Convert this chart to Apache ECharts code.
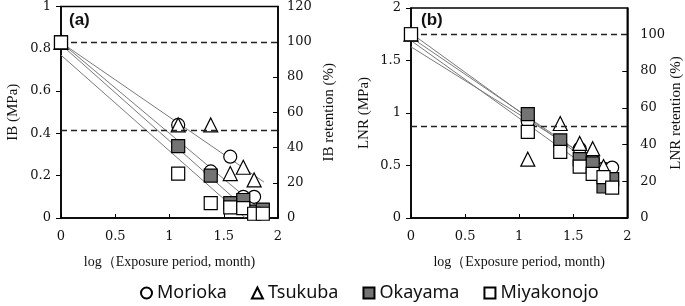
<!DOCTYPE html>
<html>
<head>
<meta charset="utf-8">
<script src="https://cdn.jsdelivr.net/npm/echarts@6/dist/echarts.min.js"></script>
<style>
  html, body { margin: 0; padding: 0; background: #fff; }
  #main { width: 685px; height: 306px; }
</style>
</head>
<body>
<div id="main"></div>
<script>
// exposure period, log(month): initial, 12, 24, 36, 48, 60, 72 months
var logTime = [0, 1.08, 1.38, 1.56, 1.68, 1.78, 1.86];
var sites = ["Morioka", "Tsukuba", "Okayama", "Miyakonojo"];

// (a) IB, MPa
var ibMorioka    = [0.83, 0.44, 0.22, 0.29, 0.10, 0.10, 0.03];
var ibTsukuba    = [0.83, 0.44, 0.44, 0.21, 0.24, 0.18, null];
var ibOkayama    = [0.83, 0.34, 0.20, 0.07, 0.085, 0.03, 0.04];
var ibMiyakonojo = [0.83, 0.21, 0.07, 0.05, 0.047, 0.02, 0.02];

// (b) LNR, MPa
var lnrMorioka    = [1.75, 0.92, 0.70, 0.66, 0.55, 0.47, 0.48];
var lnrTsukuba    = [1.75, 0.56, 0.90, 0.71, 0.66, 0.49, null];
var lnrOkayama    = [1.75, 0.99, 0.74, 0.56, 0.52, 0.30, 0.37];
var lnrMiyakonojo = [1.75, 0.82, 0.63, 0.49, 0.42, 0.39, 0.29];

// regression lines, read as start / end values
var ibFitX  = [[0, 1.86], [0, 1.87], [0, 1.80], [0, 1.70]];
var ibFitY  = [[0.83, 0.03], [0.83, 0.17], [0.82, 0.0], [0.77, 0.0]];
var lnrFitX = [[0, 1.88], [0, 1.88], [0, 1.88], [0, 1.88]];
var lnrFitY = [[1.72, 0.40], [1.63, 0.42], [1.76, 0.36], [1.69, 0.30]];

// retention reference levels, %
var refLevels = [100, 50];
var lnrInitial = 1.75;

var xTicks = ["0", "0.5", "1", "1.5", "2"];

var symbols = ["circle", "triangle", "rect", "rect"];
var fills = ["#fff", "#fff", "#737373", "#fff"];

var serif = "'DejaVu Serif', 'Liberation Serif', serif";
var nameFont = "'Liberation Serif', serif";

function pairs(vals) {
    var out = [];
    for (var i = 0; i < logTime.length; i++) {
        if (vals[i] !== null) out.push([logTime[i], vals[i]]);
    }
    return out;
}

var myChart = echarts.init(document.getElementById('main'), null, {renderer: 'canvas'});

function xAxisFor(gi) {
    return {
        gridIndex: gi, type: 'value', min: 0, max: 2, interval: 0.5,
        name: 'log（Exposure period, month)', nameLocation: 'middle', nameGap: 37,
        nameTextStyle: {fontFamily: nameFont, fontSize: 14, color: '#111'},
        axisLine: {lineStyle: {color: '#000', width: 1.5}},
        axisTick: {inside: true, length: 4, lineStyle: {color: '#000'}},
        axisLabel: {fontFamily: serif, fontSize: 13, color: '#111', margin: 12,
            formatter: function (v) { return xTicks[Math.round(v / 0.5)]; }},
        splitLine: {show: false}
    };
}

function leftY(gi, max, step, name, gap) {
    return {
        gridIndex: gi, type: 'value', min: 0, max: max, interval: step, position: 'left',
        name: name, nameLocation: 'middle', nameRotate: 90, nameGap: gap,
        nameTextStyle: {fontFamily: nameFont, fontSize: 15, color: '#111'},
        axisLine: {show: true, lineStyle: {color: '#000', width: 1.5}},
        axisTick: {show: true, length: 5, lineStyle: {color: '#000'}},
        axisLabel: {fontFamily: serif, fontSize: 13, color: '#111', margin: 10},
        splitLine: {show: false}
    };
}

function rightY(gi, max, name, gap, margin) {
    return {
        gridIndex: gi, type: 'value', min: 0, max: max, interval: 20, position: 'right',
        name: name, nameLocation: 'middle', nameRotate: 90, nameGap: gap,
        nameTextStyle: {fontFamily: nameFont, fontSize: 15, color: '#111'},
        axisLine: {show: true, lineStyle: {color: '#000', width: 1.5}},
        axisTick: {show: true, inside: true, length: 5, lineStyle: {color: '#000'}},
        axisLabel: {fontFamily: serif, fontSize: 13, color: '#111', margin: margin, showMaxLabel: max === 120},
        splitLine: {show: false}
    };
}

var series = [];
var panels = [
    {gi: 0, yLeft: 0, yRight: 1, vals: [ibMorioka, ibTsukuba, ibOkayama, ibMiyakonojo], fx: ibFitX, fy: ibFitY},
    {gi: 1, yLeft: 2, yRight: 3, vals: [lnrMorioka, lnrTsukuba, lnrOkayama, lnrMiyakonojo], fx: lnrFitX, fy: lnrFitY}
];

panels.forEach(function (p) {
    // fitted lines first so the markers sit on top
    p.fx.forEach(function (fx, k) {
        series.push({
            name: 'fit' + p.gi + k, type: 'line', xAxisIndex: p.gi, yAxisIndex: p.yLeft,
            data: [[fx[0], p.fy[k][0]], [fx[1], p.fy[k][1]]],
            symbol: 'none', silent: true, z: 2,
            lineStyle: {color: '#7a7a7a', width: 1}
        });
    });
    // dashed retention levels on the right axis
    series.push({
        name: 'ref' + p.gi, type: 'line', xAxisIndex: p.gi, yAxisIndex: p.yRight,
        data: [], z: 1,
        markLine: {
            silent: true, symbol: 'none', label: {show: false},
            lineStyle: {color: '#222', type: [6, 4], width: 1.4},
            data: refLevels.map(function (v) { return {yAxis: v}; })
        }
    });
    sites.forEach(function (s, k) {
        series.push({
            name: s, type: 'scatter', xAxisIndex: p.gi, yAxisIndex: p.yLeft,
            data: pairs(p.vals[k]),
            symbol: symbols[k], symbolSize: k === 1 ? 14 : 13, z: 3 + k,
            itemStyle: {color: fills[k], borderColor: '#000', borderWidth: 1.2, opacity: 1}
        });
    });
});

option = {
    animation: false,
    backgroundColor: '#fff',
    grid: [
        {left: 61, right: 407, top: 6, bottom: 88, show: true, borderColor: '#000', borderWidth: 1.5},
        {left: 411, right: 57, top: 8, bottom: 88, show: true, borderColor: '#000', borderWidth: 1.5}
    ],
    xAxis: [xAxisFor(0), xAxisFor(1)],
    yAxis: [
        leftY(0, 1, 0.2, 'IB (MPa)', 40),
        rightY(0, 120, 'IB retention (%)', 44, 9),
        leftY(1, 2, 0.5, 'LNR (MPa)', 39),
        rightY(1, 2 / lnrInitial * 100, 'LNR retention (%)', 38, 13)
    ],
    legend: {
        data: sites, left: 135, top: 279, itemGap: 24, itemWidth: 11, itemHeight: 11,
        textStyle: {fontFamily: "'Noto Sans', sans-serif", fontSize: 18, color: '#111'}
    },
    graphic: [
        {type: 'text', left: 69, top: 12, style: {text: '(a)', font: 'bold 17px "Liberation Sans", Arial', fill: '#111'}},
        {type: 'text', left: 421, top: 12, style: {text: '(b)', font: 'bold 17px "Liberation Sans", Arial', fill: '#111'}}
    ],
    series: series
};

myChart.setOption(option);
</script>
</body>
</html>
